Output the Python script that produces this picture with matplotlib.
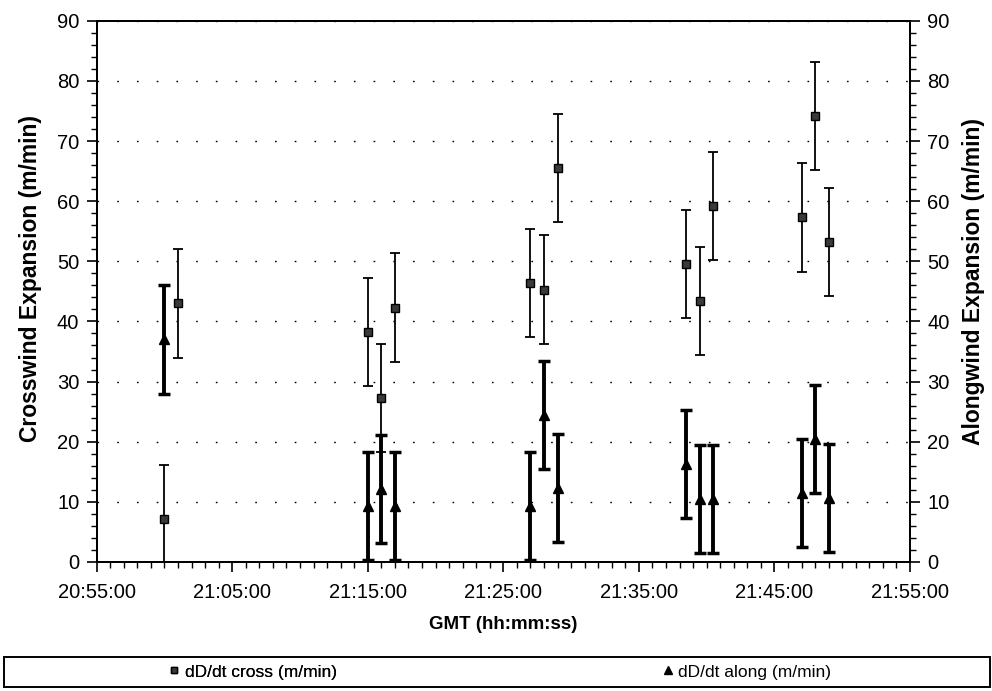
import pandas as pd
import numpy as np
import matplotlib
matplotlib.use("Agg")
import matplotlib.pyplot as plt
import matplotlib.dates as mdates
from matplotlib.lines import Line2D
from matplotlib.patches import Rectangle

plt.rcParams['font.family'] = ['Liberation Sans', 'DejaVu Sans']

# crosswind expansion (left axis)
cross_times = ["21:00:00", "21:01:00", "21:15:00", "21:16:00", "21:17:00",
               "21:27:00", "21:28:00", "21:29:00", "21:38:30", "21:39:30",
               "21:40:30", "21:47:00", "21:48:00", "21:49:00"]
cross_vals = [7.2, 43.0, 38.2, 27.3, 42.3, 46.4, 45.3, 65.5, 49.5, 43.4, 59.2, 57.3, 74.2, 53.2]
cross_err = [9.0] * len(cross_vals)

# alongwind expansion (right axis)
along_times = ["21:00:00", "21:15:00", "21:16:00", "21:17:00",
               "21:27:00", "21:28:00", "21:29:00", "21:38:30", "21:39:30",
               "21:40:30", "21:47:00", "21:48:00", "21:49:00"]
along_vals = [37.0, 9.3, 12.1, 9.3, 9.3, 24.4, 12.3, 16.3, 10.5, 10.5, 11.5, 20.5, 10.6]
along_err = [9.0] * len(along_vals)

day = "2000-01-01 "
xc = pd.to_datetime([day + t for t in cross_times])
xa = pd.to_datetime([day + t for t in along_times])
x_start = pd.Timestamp(day + "20:55:00")
x_end = pd.Timestamp(day + "21:55:00")

fig = plt.figure(figsize=(9.92, 6.91), dpi=100)
ax1 = fig.add_axes([0.0975, 0.1867, 0.8198, 0.7833])
ax2 = ax1.twinx()

# crosswind: thin bars, dark squares
ax1.errorbar(xc, cross_vals, yerr=cross_err, fmt='s', color='black',
             markerfacecolor='#3a3a3a', markeredgecolor='black', markersize=6,
             ecolor='black', elinewidth=1.3, capsize=3.5, capthick=1.3, zorder=3)

# alongwind: thick bars, triangles
ax2.errorbar(xa, along_vals, yerr=along_err, fmt='^', color='black',
             markersize=7, ecolor='black', elinewidth=2.8, capsize=4, capthick=2.5, zorder=3)

for ax in (ax1, ax2):
    ax.set_ylim(0, 90)
    ax.set_yticks(np.arange(0, 91, 10))
    ax.set_yticks(np.arange(0, 91, 2), minor=True)
    ax.tick_params(axis='y', which='major', length=7, width=1.2, labelsize=14.5, pad=5.5)
    ax.tick_params(axis='y', which='minor', length=4, width=1.0)
    for s in ax.spines.values():
        s.set_linewidth(1.4)

ax1.set_xlim(x_start, x_end)
ax1.xaxis.set_major_locator(mdates.MinuteLocator(byminute=[5, 15, 25, 35, 45, 55]))
ax1.xaxis.set_minor_locator(mdates.MinuteLocator())
ax1.xaxis.set_major_formatter(mdates.DateFormatter('%H:%M:%S'))
ax1.tick_params(axis='x', which='major', length=7, width=1.2, labelsize=14.5, pad=8)
ax1.tick_params(axis='x', which='minor', length=4, width=1.0)

ax1.yaxis.grid(True, which='major', color='black', linestyle=(0, (1.2, 13)), linewidth=1.0)
ax1.set_axisbelow(True)

ax1.set_xlabel('GMT (hh:mm:ss)', fontsize=13.5, fontweight='bold', labelpad=10)
ax1.set_ylabel('Crosswind Expansion (m/min)', fontsize=16.5, fontweight='bold')
ax2.set_ylabel('Alongwind Expansion (m/min)', fontsize=16.5, fontweight='bold')
ax1.yaxis.set_label_coords(-0.067, 0.523)
ax2.yaxis.set_label_coords(1.064, 0.519)

# legend box below the chart
fig.patches.append(Rectangle((0.004, 0.006), 0.994, 0.043, transform=fig.transFigure,
                             fill=False, edgecolor='black', linewidth=1.4))
h_cross = Line2D([], [], marker='s', linestyle='none', color='black',
                 markerfacecolor='#3a3a3a', markersize=5)
h_along = Line2D([], [], marker='^', linestyle='none', color='black', markersize=6)
leg1 = fig.legend([h_cross], ['dD/dt cross (m/min)'], loc='center', bbox_to_anchor=(0.255, 0.0275),
                  frameon=False, fontsize=12.5, handlelength=0.6, handletextpad=0.3)
fig.add_artist(leg1)
fig.legend([h_along], ['dD/dt along (m/min)'], loc='center', bbox_to_anchor=(0.753, 0.0275),
           frameon=False, fontsize=12.5, handlelength=0.6, handletextpad=0.3)

fig.savefig('out.png', dpi=100)
